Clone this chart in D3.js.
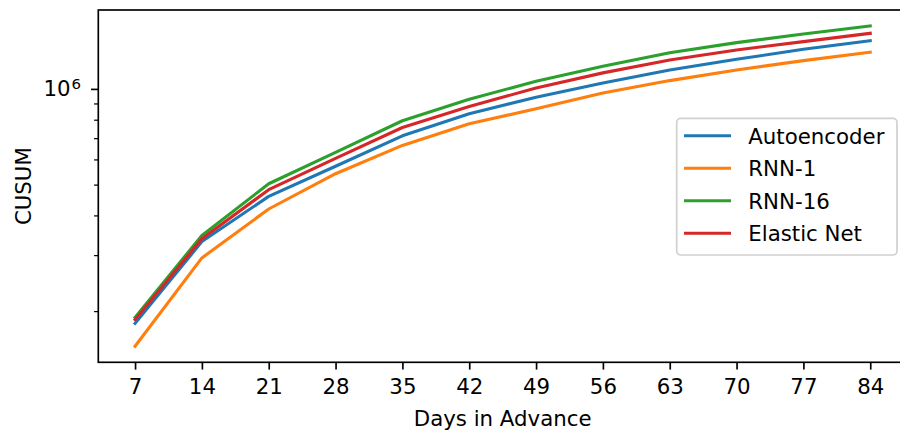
<!DOCTYPE html>
<html>
<head>
<meta charset="utf-8">
<script src="https://cdn.jsdelivr.net/npm/d3@7"></script>
<style>
  body { margin: 0; background: #fff; }
  svg text { font-family: "DejaVu Sans", sans-serif; fill: #000; }
</style>
</head>
<body>
<svg id="chart" width="900" height="437"></svg>
<script>
var days = [7, 14, 21, 28, 35, 42, 49, 56, 63, 70, 77, 84];

var autoencoder = [183000, 331000, 459000, 571000, 712000, 835000, 942000, 1044000, 1147000, 1239000, 1332000, 1418000];
var rnn1 = [155000, 294000, 419000, 541000, 664000, 777000, 866000, 971000, 1062000, 1147000, 1227000, 1304000];
var rnn16 = [191000, 346000, 503000, 631000, 794000, 928000, 1057000, 1178000, 1300000, 1398000, 1488000, 1577000];
var elasticNet = [188000, 338000, 482000, 605000, 756000, 880000, 1007000, 1123000, 1233000, 1326000, 1408000, 1496000];

var seriesNames = ["Autoencoder", "RNN-1", "RNN-16", "Elastic Net"];
var seriesValues = [autoencoder, rnn1, rnn16, elasticNet];
var colors = ["#1f77b4", "#ff7f0e", "#2ca02c", "#d62728"];

var minorTicks = [200000, 300000, 400000, 500000, 600000, 700000, 800000, 900000];

var svg = d3.select("#chart");

var plotLeft = 98.3, plotTop = 10, plotBottom = 362.3, plotRight = 907;
var fontSize = 21.3;

// x domain with matplotlib style 5% margin
var xPad = (days[days.length - 1] - days[0]) * 0.05;
var x = d3.scaleLinear()
  .domain([days[0] - xPad, days[days.length - 1] + xPad])
  .range([plotLeft, plotRight]);

// log y with 5% margin in log space
var all = d3.merge(seriesValues);
var lmin = Math.log10(d3.min(all)), lmax = Math.log10(d3.max(all));
var lPad = (lmax - lmin) * 0.05;
var y = d3.scaleLog()
  .domain([Math.pow(10, lmin - lPad), Math.pow(10, lmax + lPad)])
  .range([plotBottom, plotTop]);

var line = d3.line()
  .x(function(d, i) { return x(days[i]); })
  .y(function(d) { return y(d); });

svg.append("clipPath").attr("id", "plotclip")
  .append("rect").attr("x", plotLeft).attr("y", plotTop)
  .attr("width", plotRight - plotLeft).attr("height", plotBottom - plotTop);

var plot = svg.append("g").attr("clip-path", "url(#plotclip)");

seriesValues.forEach(function(vals, k) {
  plot.append("path")
    .datum(vals)
    .attr("d", line)
    .attr("fill", "none")
    .attr("stroke", colors[k])
    .attr("stroke-width", 3.1)
    .attr("stroke-linejoin", "round")
    .attr("stroke-linecap", "square");
});

// x axis
var xAxis = d3.axisBottom(x)
  .tickValues(days)
  .tickSize(7.3)
  .tickPadding(9.4)
  .tickFormat(d3.format("d"));

var gx = svg.append("g")
  .attr("transform", "translate(0," + plotBottom + ")")
  .call(xAxis);
gx.select(".domain").remove();
gx.selectAll(".tick line").attr("stroke", "#000").attr("stroke-width", 1.67);
gx.selectAll(".tick text")
  .attr("font-size", fontSize)
  .attr("font-family", "DejaVu Sans");

// y axis minor ticks
var gyMinor = svg.append("g")
  .attr("transform", "translate(" + plotLeft + ",0)")
  .call(d3.axisLeft(y).tickValues(minorTicks).tickSize(4.2).tickFormat(""));
gyMinor.select(".domain").remove();
gyMinor.selectAll(".tick line").attr("stroke", "#000").attr("stroke-width", 1.25);

// y axis major tick
var gy = svg.append("g")
  .attr("transform", "translate(" + plotLeft + ",0)")
  .call(d3.axisLeft(y).tickValues([1000000]).tickSize(7.3).tickFormat(""));
gy.select(".domain").remove();
gy.selectAll(".tick line").attr("stroke", "#000").attr("stroke-width", 1.67);

var majorLabel = svg.append("text")
  .attr("x", 81)
  .attr("y", 96)
  .attr("text-anchor", "end")
  .attr("font-size", fontSize);
majorLabel.append("tspan").text("10");
majorLabel.append("tspan")
  .attr("font-size", fontSize * 0.7)
  .attr("dy", -7.5)
  .attr("dx", 1)
  .text("6");

// frame (spines)
svg.append("rect")
  .attr("x", plotLeft).attr("y", plotTop)
  .attr("width", plotRight - plotLeft).attr("height", plotBottom - plotTop)
  .attr("fill", "none")
  .attr("stroke", "#000")
  .attr("stroke-width", 1.67);

// axis labels
svg.append("text")
  .attr("x", (plotLeft + plotRight) / 2)
  .attr("y", 426)
  .attr("text-anchor", "middle")
  .attr("font-size", fontSize)
  .text("Days in Advance");

svg.append("text")
  .attr("transform", "translate(30.8," + ((plotTop + plotBottom) / 2) + ") rotate(-90)")
  .attr("text-anchor", "middle")
  .attr("font-size", fontSize)
  .text("CUSUM");

// legend
var lg = svg.append("g");
lg.append("rect")
  .attr("x", 676.7).attr("y", 118.3)
  .attr("width", 897 - 676.7).attr("height", 255 - 118.3)
  .attr("rx", 4).attr("ry", 4)
  .attr("fill", "#fff").attr("fill-opacity", 0.8)
  .attr("stroke", "#d0d0d0").attr("stroke-width", 1.67);

seriesNames.forEach(function(name, k) {
  var cy = 135.7 + k * 32.5;
  lg.append("line")
    .attr("x1", 684).attr("x2", 731)
    .attr("y1", cy).attr("y2", cy)
    .attr("stroke", colors[k])
    .attr("stroke-width", 3.1);
  lg.append("text")
    .attr("x", 748.3)
    .attr("y", cy + 7.8)
    .attr("font-size", fontSize)
    .text(name);
});
</script>
</body>
</html>
